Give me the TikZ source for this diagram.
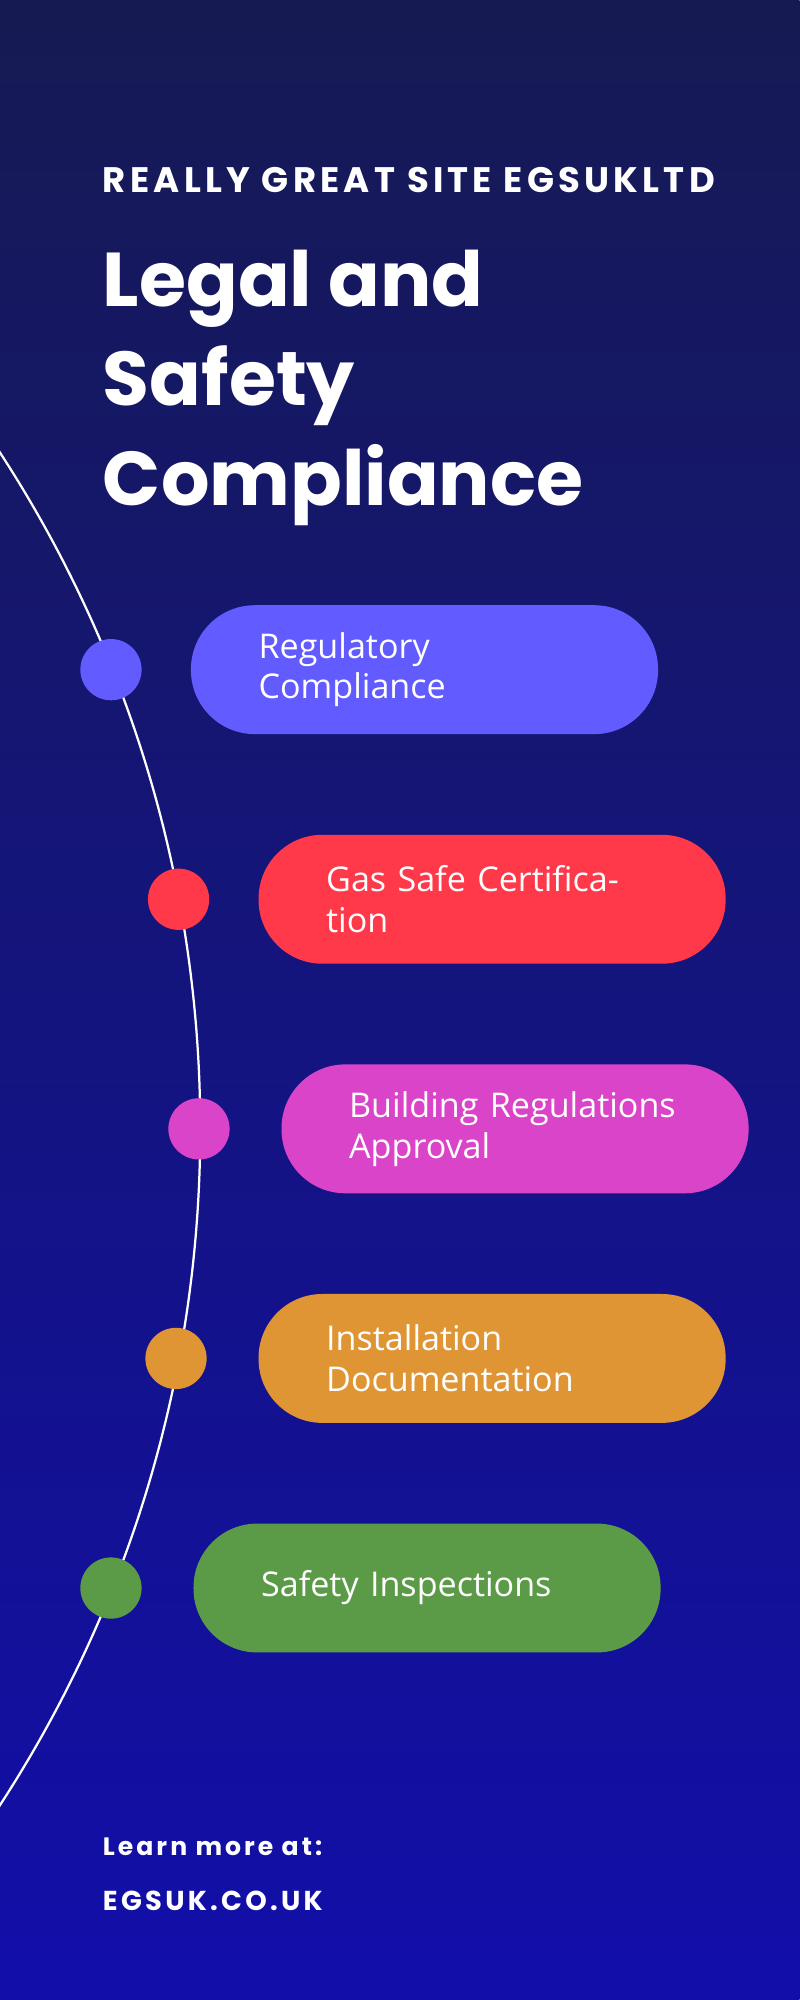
\documentclass[tikz,border=0pt]{standalone}
\usepackage{fontspec}
\setmainfont{Poppins}
\newfontfamily\pillfont{Open Sans}
\newfontfamily\spacedfont[LetterSpace=12]{Poppins}
\usetikzlibrary{positioning}
\definecolor{bg-top}{RGB}{22,26,82}
\definecolor{bg-bottom}{RGB}{18,14,170}
\definecolor{step-blue}{RGB}{98,91,255}
\definecolor{step-red}{RGB}{255,56,74}
\definecolor{step-magenta}{RGB}{218,68,200}
\definecolor{step-orange}{RGB}{223,149,52}
\definecolor{step-green}{RGB}{91,155,72}
\tikzset{%
    pill/.style={%
        rectangle,
        rounded corners=0.5cm,
        minimum width=3.66cm,
        minimum height=1.01cm,
        text width=2.6cm,
        inner xsep=0.53cm,
        align=left,
        text=white,
        font=\pillfont\fontsize{7.6}{9.1}\selectfont,
    },
    dot/.style={%
        circle,
        minimum size=0.48cm,
        inner sep=0pt,
    },
}
\begin{document}
\begin{tikzpicture}[x=0.01cm, y=-0.01cm]
  \useasboundingbox (0,0) rectangle (627,1568);
  \shade[top color=bg-top, bottom color=bg-bottom] (0,0) rectangle (627,1568);

  \begin{scope}
    \clip (0,0) rectangle (627,1568);
    \draw[white, line width=0.5pt] (-816,885) circle (973);
  \end{scope}

  \node[anchor=west, inner sep=0pt, text=white, font=\spacedfont\bfseries\fontsize{7.9}{8}\selectfont] (site) at (80,141) {REALLY GREAT SITE EGSUKLTD};
  \node[anchor=north west, text=white, align=left, inner sep=0pt,
        font=\bfseries\fontsize{17}{22.2}\selectfont] (title) at (80,195) {Legal and\\Safety\\Compliance};

  \node[dot, fill=step-blue] (dot1) at (87,525) {};
  \node[dot, fill=step-red] (dot2) at (140,705) {};
  \node[dot, fill=step-magenta] (dot3) at (156,885) {};
  \node[dot, fill=step-orange] (dot4) at (138,1065) {};
  \node[dot, fill=step-green] (dot5) at (87,1245) {};

  \node[pill, fill=step-blue, anchor=west] (reg) at (149,525) {Regulatory\\Compliance};
  \node[pill, fill=step-red, anchor=west] (gas) at (202,705) {Gas Safe Certification};
  \node[pill, fill=step-magenta, anchor=west] (build) at (220,885) {Building Regulations\\Approval};
  \node[pill, fill=step-orange, anchor=west] (install) at (202,1065) {Installation\\Documentation};
  \node[pill, fill=step-green, anchor=west] (inspect) at (151,1245) {Safety Inspections};

  \node[anchor=west, inner sep=0pt, text=white, font=\spacedfont\bfseries\fontsize{5.6}{7}\selectfont] (learn) at (80,1448) {Learn more at:};
  \node[anchor=west, inner sep=0pt, text=white, font=\spacedfont\bfseries\fontsize{6.1}{7}\selectfont] (web) at (80,1490) {EGSUK.CO.UK};
\end{tikzpicture}
\end{document}
